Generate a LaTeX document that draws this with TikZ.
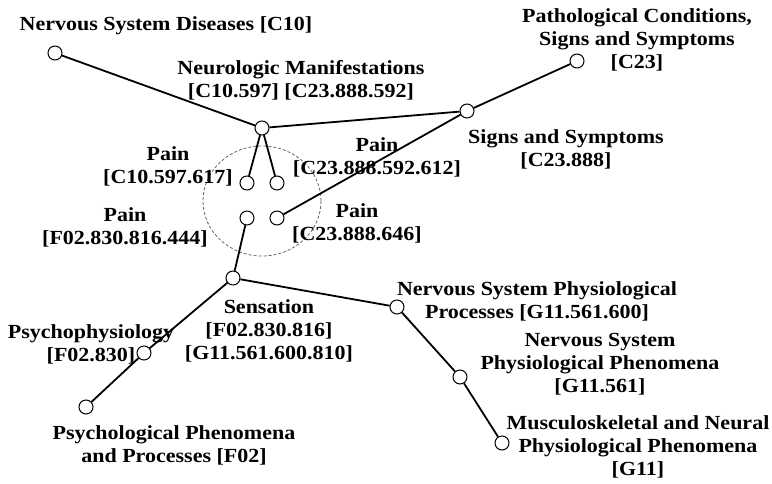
\documentclass[tikz,border=0pt]{standalone}
\usepackage{fontspec}
\setmainfont{Liberation Serif}[FakeStretch=1.1]
\begin{document}
\begin{tikzpicture}[x=1pt,y=-1pt,
    term/.style={circle, draw, fill=white, line width=1pt, minimum size=14pt, inner sep=0pt},
    lbl/.style={align=center, inner sep=0pt, font=\fontsize{20}{23}\selectfont\bfseries},
    link/.style={line width=1.8pt}]
    \useasboundingbox (0,0) rectangle (772,483);
    % the four Pain terms share one ring
    \draw[densely dashed, black!60, line width=0.8pt] (262,201) ellipse [x radius=59, y radius=55];
    % terms
    \node[term] (c10)   at (55,53)   {};
    \node[term] (c23)   at (577,61)  {};
    \node[term] (nm)    at (262,128) {};
    \node[term] (ss)    at (467,111) {};
    \node[term] (paina) at (247,183) {};
    \node[term] (painb) at (277,183) {};
    \node[term] (painc) at (247,218) {};
    \node[term] (paind) at (277,218) {};
    \node[term] (sens)  at (233,278) {};
    \node[term] (psy)   at (144,353) {};
    \node[term] (f02)   at (86,407)  {};
    \node[term] (gsix)  at (397,307) {};
    \node[term] (gfive) at (460,377) {};
    \node[term] (g11)   at (502,443) {};
    % tree edges
    \draw[link] (c10) -- (nm) ;
    \draw[link] (nm) -- (ss) ;
    \draw[link] (ss) -- (c23) ;
    \draw[link] (nm) -- (paina) ;
    \draw[link] (nm) -- (painb) ;
    \draw[link] (ss) -- (paind) ;
    \draw[link] (painc) -- (sens) ;
    \draw[link] (sens) -- (psy) ;
    \draw[link] (psy) -- (f02) ;
    \draw[link] (sens) -- (gsix) ;
    \draw[link] (gsix) -- (gfive) ;
    \draw[link] (gfive) -- (g11) ;
    % labels
    \node[lbl] (c10txt)   at (166,26)  {Nervous System Diseases [C10]};
    \node[lbl] (c23txt)   at (637,40)  {Pathological Conditions,\\Signs and Symptoms\\{}[C23]};
    \node[lbl] (nmtxt)    at (301,80)  {Neurologic Manifestations\\{}[C10.597] [C23.888.592]};
    \node[lbl] (sstxt)    at (566,149) {Signs and Symptoms\\{}[C23.888]};
    \node[lbl] (lbla)     at (168,166) {Pain\\{}[C10.597.617]};
    \node[lbl] (lblb)     at (377,157) {Pain\\{}[C23.888.592.612]};
    \node[lbl] (lblc)     at (125,227) {Pain\\{}[F02.830.816.444]};
    \node[lbl] (lbld)     at (357,223) {Pain\\{}[C23.888.646]};
    \node[lbl] (senstxt)  at (269,331) {Sensation\\{}[F02.830.816]\\{}[G11.561.600.810]};
    \node[lbl] (psytxt)   at (91,344)  {Psychophysiology\\{}[F02.830]};
    \node[lbl] (f02txt)   at (174,445) {Psychological Phenomena\\and Processes [F02]};
    \node[lbl] (gsixtxt)  at (537,301) {Nervous System Physiological\\Processes [G11.561.600]};
    \node[lbl] (gfivetxt) at (600,364) {Nervous System\\Physiological Phenomena\\{}[G11.561]};
    \node[lbl] (g11txt)   at (638,447) {Musculoskeletal and Neural\\Physiological Phenomena\\{}[G11]};
\end{tikzpicture}
\end{document}
